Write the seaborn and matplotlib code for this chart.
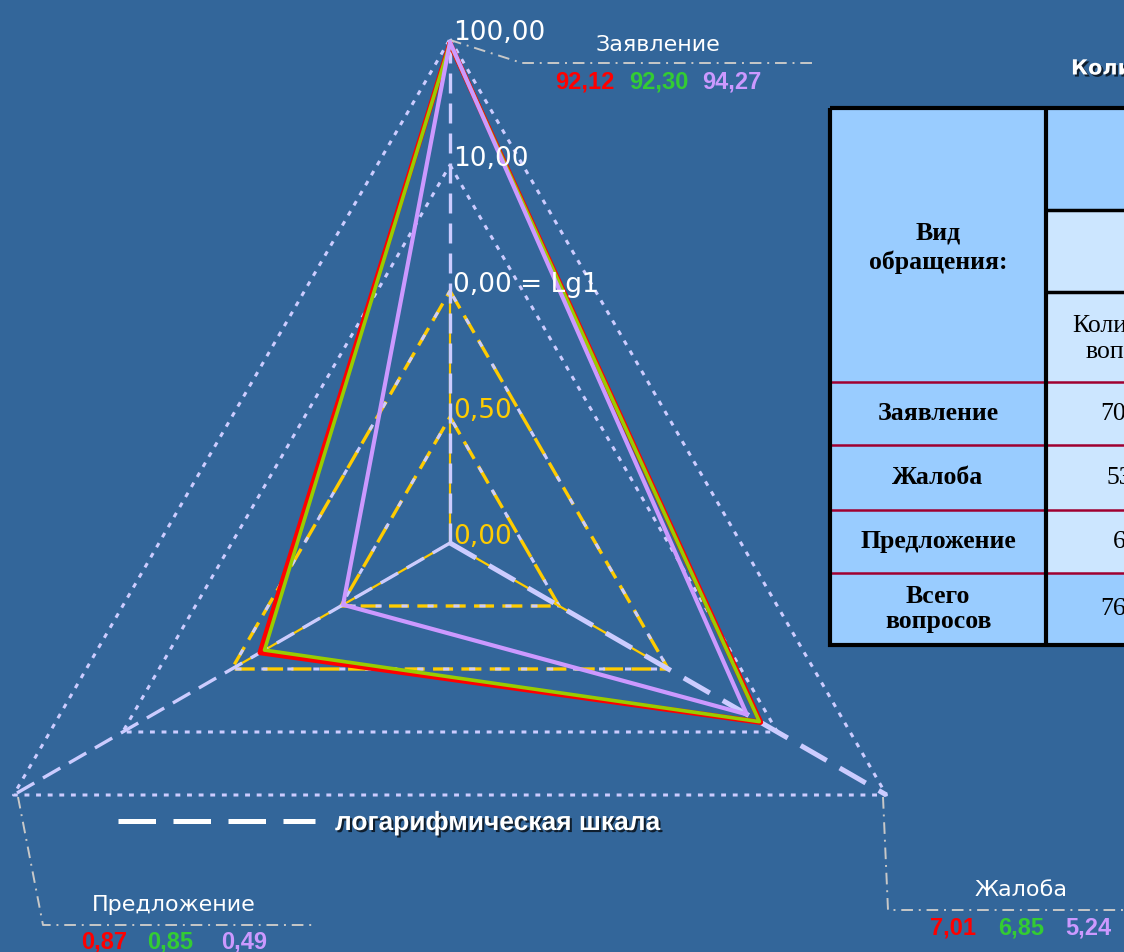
import numpy as np
import pandas as pd
import seaborn as sns
import matplotlib.pyplot as plt
import matplotlib.patheffects as pe
from matplotlib.patches import Rectangle

# ---------------- данные ----------------
categories = ["Заявление", "Жалоба", "Предложение"]
angles_deg = [90, -30, 210]

vals_red = [92.12, 7.01, 0.87]
vals_green = [92.30, 6.85, 0.85]
vals_purple = [94.27, 5.24, 0.49]

tick_values = [0, 0.5, 1, 10, 100]
tick_labels = ["0,00", "0,50", "0,00 = Lg1", "10,00", "100,00"]

table_rows = ["Заявление", "Жалоба", "Предложение", "Всего\nвопросов"]
table_counts = ["7001", "533", "66", "7600"]

# ---------------- оформление ----------------
BG = "#33669a"
LAV = "#ccccff"
YEL = "#ffcc00"
RED = "#ff0000"
GREEN = "#99cc00"
PURPLE = "#cc99ff"
NUM_COLORS = ["#ff0000", "#33cc33", "#cc99ff"]

CX, CY = 450, 543
STEP = 126

sns.set_style("white")
plt.rcParams['font.family'] = ['DejaVu Sans']


def radius(v):
    # 0..1 линейно, дальше логарифм
    v = np.asarray(v, dtype=float)
    return np.where(v <= 1, STEP * 2 * v, STEP * (2 + np.log10(np.maximum(v, 1e-9))))


def polar_xy(vals, closed=True):
    r = radius(vals)
    a = np.radians(angles_deg)
    x = CX + r * np.cos(a)
    y = CY - r * np.sin(a)
    if closed:
        x = np.append(x, x[0])
        y = np.append(y, y[0])
    return x, y


fig = plt.figure(figsize=(11.24, 9.52), dpi=100, facecolor=BG)
ax = fig.add_axes([0, 0, 1, 1])
ax.set_facecolor(BG)
ax.set_xlim(0, 1124)
ax.set_ylim(952, 0)
ax.axis('off')

# сетка
for lvl in [10, 100]:
    x, y = polar_xy([lvl] * 3)
    ax.plot(x, y, color=LAV, lw=2.2, ls=(0, (1.6, 2.2)), zorder=1)
for lvl in [0.5, 1]:
    x, y = polar_xy([lvl] * 3)
    ax.plot(x, y, color=YEL, lw=2.4, ls=(0, (6, 2.5)), zorder=2)
    ax.plot(x, y, color=LAV, lw=2.2, ls=(6.5, (2, 6.5)), zorder=2)

# оси
for ang in angles_deg:
    a = np.radians(ang)
    r1 = radius(1)
    ax.plot([CX, CX + r1 * np.cos(a)], [CY, CY - r1 * np.sin(a)],
            color=YEL, lw=1.6, zorder=2)
    rmax = radius(80) if ang == 90 else radius(100)
    ax.plot([CX, CX + rmax * np.cos(a)], [CY, CY - rmax * np.sin(a)],
            color=LAV, lw=3.6 if ang == -30 else 2.4, ls=(0, (6, 3)), zorder=3)

# ряды данных
for vals, col, lw in [(vals_red, RED, 3.8), (vals_green, GREEN, 2.6), (vals_purple, PURPLE, 3.0)]:
    x, y = polar_xy(vals)
    sns.lineplot(x=x, y=y, sort=False, estimator=None, color=col, lw=lw, ax=ax, zorder=5,
                 legend=False)

# подписи шкалы
for v, lab in zip(tick_values, tick_labels):
    col = YEL if v < 1 else "white"
    ax.text(CX + 3, CY - float(radius(v)) - 6, lab, color=col, fontsize=19,
            ha='left', va='center', zorder=6)

# выноски и подписи категорий
lead = dict(color="#c8c8c8", lw=1.4, ls=(0, (6, 3, 1, 3)), zorder=1)
ax.plot([450, 522, 815], [40, 63, 63], **lead)
ax.plot([883, 888, 1124], [797, 910, 910], **lead)
ax.plot([18, 43, 315], [797, 925, 925], **lead)

label_pos = {"Заявление": (658, 45, 82, [585, 659, 732]),
             "Жалоба": (1021, 890, 928, [953, 1021, 1088]),
             "Предложение": (174, 905, 942, [104, 170, 244])}
for i, cat in enumerate(categories):
    lx, ly, ny, nxs = label_pos[cat]
    ax.text(lx, ly, cat, color="white", fontsize=16, ha='center', va='center')
    for nx, vals, col in zip(nxs, [vals_red, vals_green, vals_purple], NUM_COLORS):
        ax.text(nx, ny, f"{vals[i]:.2f}".replace(".", ","), color=col, fontsize=17,
                fontweight='bold', family='Liberation Sans', ha='center', va='center')

# легенда
shadow = [pe.SimplePatchShadow(offset=(1.5, -1.5), shadow_rgbFace='black', alpha=0.7), pe.Normal()]
ax.plot([118, 315], [821, 821], color="white", lw=3.6, ls=(0, (7.5, 3.5)), solid_capstyle='butt')
ax.text(335, 823, "логарифмическая шкала", color="white", fontsize=19, fontweight='bold',
        family='Liberation Sans', ha='left', va='center', path_effects=shadow)

# таблица справа
ax.text(1071, 68, "Количество обращений", color="white", fontsize=15, fontweight='bold',
        ha='left', va='center', path_effects=shadow)

L, M, R = 830, 1046, 1200
row_y = [382, 445, 510, 573, 645]
ax.add_patch(Rectangle((L, 108), M - L, 537, facecolor="#99ccff", edgecolor='none', zorder=1))
ax.add_patch(Rectangle((M, 108), R - M, 102, facecolor="#99ccff", edgecolor='none', zorder=1))
ax.add_patch(Rectangle((M, 210), R - M, 363, facecolor="#cce6ff", edgecolor='none', zorder=1))
ax.add_patch(Rectangle((M, 573), R - M, 72, facecolor="#99ccff", edgecolor='none', zorder=1))
for yy in row_y[:-1]:
    ax.plot([L, R], [yy, yy], color="#a00030", lw=1.8, zorder=2)
ax.plot([M, R], [210, 210], color="black", lw=2.5, zorder=3)
ax.plot([M, R], [292, 292], color="black", lw=2.5, zorder=3)
ax.plot([M, M], [108, 645], color="black", lw=3, zorder=3)
ax.add_patch(Rectangle((L, 108), R - L, 537, facecolor='none', edgecolor="black", lw=3, zorder=3))

tfont = dict(family='Liberation Serif', fontsize=18.5, color="black", zorder=4)
ax.text((L + M) / 2, 248, "Вид\nобращения:", ha='center', va='center', fontweight='bold',
        linespacing=1.35, **tfont)
ax.text(1136, 339, "Количество\nвопросов", ha='center', va='center', linespacing=1.25, **tfont)
for k, (name, cnt) in enumerate(zip(table_rows, table_counts)):
    yc = (row_y[k] + row_y[k + 1]) / 2
    ax.text((L + M) / 2, yc, name, ha='center', va='center', fontweight='bold',
            linespacing=1.1, **tfont)
    ax.text(1126, yc, cnt, ha='center', va='center', **tfont)

fig.savefig("out.png", dpi=100, facecolor=BG)
